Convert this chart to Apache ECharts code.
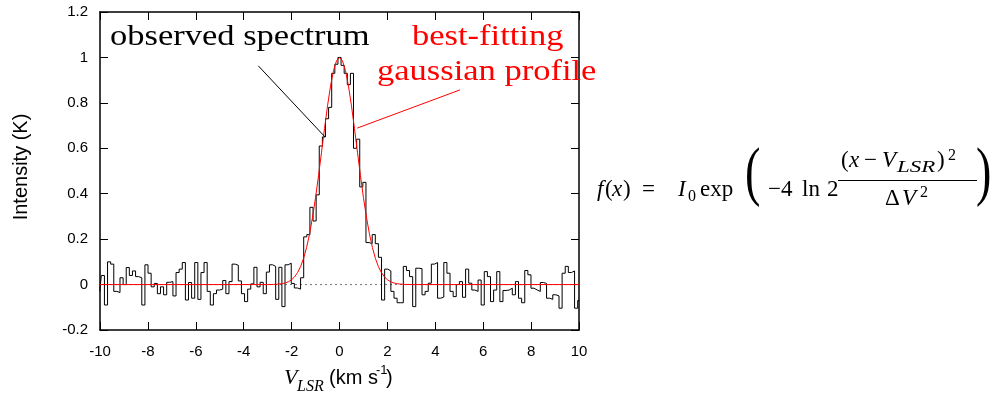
<!DOCTYPE html>
<html><head><meta charset="utf-8">
<script src="https://cdn.jsdelivr.net/npm/echarts@6/dist/echarts.min.js"></script>
<style>html,body{margin:0;padding:0;background:#fff}#c{width:997px;height:398px}</style>
</head><body><div id="c"></div>
<script>
// ---- data ----
const channelStart = -10.01;   // velocity of first channel centre (km/s)
const channelWidth = 0.13;     // km/s
const spectrumLeft = [-0.03,0.04,-0.09,0.10,0.09,-0.03,-0.035,0.03,0.00,0.075,0.04,0.06,0.035,0.03,-0.09,0.087,0.05,-0.01,0.005,-0.04,-0.01,-0.045,0.01,0.013,-0.05,0.053,0.068,0.097,-0.068,0.009,-0.06,0.097,-0.065,0.053,0.097,-0.03,-0.09,-0.04,-0.024,-0.02,0.018,-0.04,0.013,0.09,0.085,0.016,-0.04,-0.075,-0.02,0.003,0.076,-0.01,0.01,-0.04,0.055,0.087,0.08,-0.065,0.076,-0.097,0.087,0.094,0.005,-0.015,-0.02,0.03];
const spectrumPeak = [0.21,0.22,0.34,0.28,0.395,0.61,0.65,0.73,0.78,0.93,0.97,1.0,0.965,0.93,0.88,0.93,0.60,0.64,0.43,0.45,0.185,0.18,0.22,0.18,0.12];
const spectrumRight = [-0.068,0.068,0.06,-0.03,-0.06,-0.08,-0.08,0.08,0.062,0.035,-0.097,0.072,0.07,-0.045,-0.03,0.006,0.09,0.097,-0.06,-0.055,0.097,0.05,-0.03,-0.053,0.0,0.013,-0.056,0.068,0.006,-0.024,-0.03,0.02,-0.09,0.057,0.035,-0.075,-0.024,0.057,-0.075,-0.026,-0.024,-0.016,-0.045,0.013,-0.06,-0.08,0.062,0.043,-0.016,-0.024,-0.03,0.009,0.005,-0.06,-0.065,-0.045,-0.05,-0.104,0.05,0.08,0.053,0.06,-0.104,-0.07];
const fitVelocity = [-10,-3,-2.75,-2.625,-2.5,-2.375,-2.25,-2.125,-2,-1.875,-1.75,-1.625,-1.5,-1.375,-1.25,-1.125,-1,-0.875,-0.75,-0.625,-0.5,-0.375,-0.25,-0.125,0,0.125,0.25,0.375,0.5,0.625,0.75,0.875,1,1.125,1.25,1.375,1.5,1.625,1.75,1.875,2,2.125,2.25,2.375,2.5,2.625,2.75,3,10];
const fitIntensity = [0,0,0.0007,0.0013,0.0025,0.0045,0.0078,0.013,0.0215,0.034,0.053,0.079,0.115,0.163,0.223,0.297,0.383,0.480,0.583,0.687,0.787,0.874,0.942,0.985,1,0.985,0.942,0.874,0.787,0.687,0.583,0.480,0.383,0.297,0.223,0.163,0.115,0.079,0.053,0.034,0.0215,0.013,0.0078,0.0045,0.0025,0.0013,0.0007,0,0];
const zeroLine = [[-10,0],[10,0]];
const observedPointer = [[-3.39,0.963],[-0.605,0.65]];
const fitPointer = [[0.743,0.689],[5.03,0.857]];
const xRange = [-10, 10], xStep = 2;
const yRange = [-0.2, 1.2], yStep = 0.2;

// ---- build ----
const spectrum = spectrumLeft.concat(spectrumPeak, spectrumRight);
const spectrumData = spectrum.map((v, i) => [Math.round((channelStart + channelWidth * i) * 1000) / 1000, v]);
const fitData = fitVelocity.map((v, i) => [v, fitIntensity[i]]);

const SANS = '"Liberation Sans", Arial, sans-serif';
const SERIF = '"Liberation Serif", "Times New Roman", serif';
function txt(str, x, base, size, o) {
  o = o || {};
  return { type: 'text', x: x, y: base - 0.33 * size, scaleX: o.sx || 1, silent: true, z: 100,
    style: { text: str, fill: o.color || '#000',
      font: (o.italic ? 'italic ' : '') + size + 'px ' + (o.family || SERIF),
      align: o.align || 'left', verticalAlign: 'middle' } };
}

const axisCommon = {
  type: 'value', splitLine: { show: false },
  axisLine: { show: true, onZero: false, lineStyle: { color: '#000', width: 1.5 } },
  axisTick: { show: true, inside: true, length: 8, lineStyle: { color: '#000', width: 1 } }
};

const chart = echarts.init(document.getElementById('c'), null, { renderer: 'canvas' });
chart.setOption({
  animation: false,
  backgroundColor: '#fff',
  grid: { left: 100, right: 418, top: 12, bottom: 68 },
  xAxis: [
    Object.assign({}, axisCommon, { position: 'bottom', min: xRange[0], max: xRange[1], interval: xStep,
      axisLabel: { color: '#000', fontSize: 15, fontFamily: SANS, margin: 14 } }),
    Object.assign({}, axisCommon, { position: 'top', min: xRange[0], max: xRange[1], interval: xStep,
      axisLabel: { show: false } })
  ],
  yAxis: [
    Object.assign({}, axisCommon, { position: 'left', min: yRange[0], max: yRange[1], interval: yStep,
      axisLabel: { color: '#000', fontSize: 15, fontFamily: SANS, margin: 12,
        formatter: v => String(+v.toFixed(1)) } }),
    Object.assign({}, axisCommon, { position: 'right', min: yRange[0], max: yRange[1], interval: yStep,
      axisLabel: { show: false } })
  ],
  series: [
    { type: 'line', data: zeroLine, symbol: 'none', z: 1,
      lineStyle: { color: '#777', width: 1, type: [2, 3] } },
    { type: 'line', data: spectrumData, step: 'middle', symbol: 'none', z: 2,
      lineStyle: { color: '#000', width: 1 } },
    { type: 'line', data: fitData, symbol: 'none', z: 3,
      lineStyle: { color: '#ff0000', width: 1 } },
    { type: 'line', data: observedPointer, symbol: 'none', z: 4,
      lineStyle: { color: '#000', width: 1 } },
    { type: 'line', data: fitPointer, symbol: 'none', z: 4,
      lineStyle: { color: '#ff0000', width: 1 } }
  ],
  graphic: [
    txt('observed spectrum', 110, 47, 30, { sx: 1.15 }),
    txt('best-fitting', 412, 47, 30, { sx: 1.15, color: '#ff0000' }),
    txt('gaussian profile', 377, 82, 30, { sx: 1.15, color: '#ff0000' }),
    // y-axis title
    { type: 'text', x: 21, y: 167, rotation: Math.PI / 2, silent: true,
      style: { text: 'Intensity (K)', fill: '#000', font: '20px ' + SANS, align: 'center', verticalAlign: 'middle' } },
    // x-axis title
    txt('V', 284, 385, 22, { italic: true }),
    txt('LSR', 297, 392, 16, { italic: true }),
    txt('(km s', 329, 385, 20, { family: SANS }),
    txt('-1', 376, 375, 13, { family: SANS }),
    txt(')', 386, 385, 20, { family: SANS }),
    // formula
    txt('f', 597, 198, 23, { italic: true }),
    txt('(', 605, 198, 23),
    txt('x', 612, 198, 23, { italic: true }),
    txt(')', 623, 198, 23),
    txt('=', 642, 198, 23),
    txt('I', 678, 198, 23, { italic: true }),
    txt('0', 688, 202, 16),
    txt('exp', 700, 198, 23),
    txt('(', 745, 197, 66, { sx: 0.7 }),
    txt('\u22124', 768, 198, 23),
    txt('ln', 802, 198, 23),
    txt('2', 827, 198, 23),
    { type: 'line', silent: true, shape: { x1: 838, y1: 180.5, x2: 977, y2: 180.5 }, style: { stroke: '#000', lineWidth: 1 } },
    txt('(', 841, 169, 23),
    txt('x', 849, 169, 23, { italic: true }),
    txt('\u2212', 864, 169, 23),
    txt('V', 882, 169, 23, { italic: true }),
    txt('LSR', 897, 173, 17, { italic: true, sx: 1.35 }),
    txt(')', 937, 169, 23),
    txt('2', 948, 161, 16),
    txt('\u0394', 885, 207, 23),
    txt('V', 902, 207, 23, { italic: true }),
    txt('2', 920, 198, 16),
    txt(')', 976, 197, 66, { sx: 0.7 })
  ]
});
</script>
</body></html>
